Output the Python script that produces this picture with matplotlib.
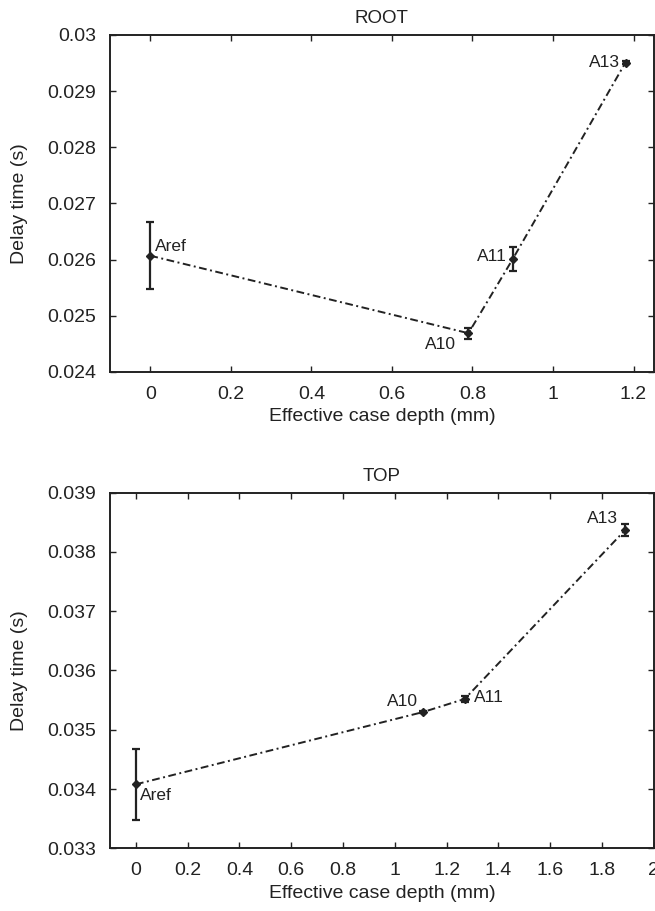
import matplotlib
matplotlib.use("Agg")
import matplotlib.pyplot as plt
from matplotlib.ticker import FuncFormatter

plt.rcParams['font.family'] = ['Liberation Sans', 'DejaVu Sans']

# --------------------------
# Data
# --------------------------
labels = ['Aref', 'A10', 'A11', 'A13']

root_depth = [0.0, 0.79, 0.90, 1.18]
root_delay = [0.02607, 0.02469, 0.02601, 0.02951]
root_err = [0.00060, 0.00010, 0.00022, 0.00002]

top_depth = [0.0, 1.11, 1.27, 1.89]
top_delay = [0.03408, 0.03530, 0.03552, 0.03837]
top_err = [0.00060, 0.00002, 0.00005, 0.00010]

root_yticks = [0.024, 0.025, 0.026, 0.027, 0.028, 0.029, 0.03]
root_xticks = [0, 0.2, 0.4, 0.6, 0.8, 1, 1.2]
top_yticks = [0.033, 0.034, 0.035, 0.036, 0.037, 0.038, 0.039]
top_xticks = [0, 0.2, 0.4, 0.6, 0.8, 1, 1.2, 1.4, 1.6, 1.8, 2]

# label offsets in points (dx, dy) and alignment
root_offsets = [((3, 3.5), 'left', 'baseline'), ((-9, -3), 'right', 'top'),
                ((-4, 2), 'right', 'center'), ((-4, 0), 'right', 'center')]
top_offsets = [((3, -3), 'left', 'top'), ((-4, 2), 'right', 'bottom'),
               ((7, 1), 'left', 'center'), ((-5, 3), 'right', 'bottom')]

ink = '#222222'
fmt = FuncFormatter(lambda v, p: f"{v:g}")

fig = plt.figure(figsize=(6.55, 9.11), dpi=100)
ax1 = fig.add_axes([0.168, 0.5917, 0.830, 0.3699])
ax2 = fig.add_axes([0.168, 0.0688, 0.830, 0.3904])


def draw(ax, x, y, err, offsets, title, xlim, ylim, xticks, yticks):
    ax.plot(x, y, color=ink, lw=1.4, dashes=(4, 1.8, 1, 1.8))
    ax.errorbar(x, y, yerr=err, fmt='D', ms=4.5, color=ink, ecolor=ink,
                elinewidth=1.6, capsize=3.2, capthick=1.6)
    for xi, yi, lab, (off, ha, va) in zip(x, y, labels, offsets):
        ax.annotate(lab, (xi, yi), xytext=off, textcoords='offset points',
                    ha=ha, va=va, fontsize=12.5, color=ink)
    ax.set_xlim(*xlim)
    ax.set_ylim(*ylim)
    ax.set_xticks(xticks)
    ax.set_yticks(yticks)
    ax.xaxis.set_major_formatter(fmt)
    ax.yaxis.set_major_formatter(fmt)
    ax.tick_params(direction='in', length=4, width=1, colors=ink,
                   top=True, right=True, labelsize=14)
    ax.tick_params(axis='y', pad=10)
    ax.tick_params(axis='x', pad=10)
    for s in ax.spines.values():
        s.set_linewidth(1.4)
        s.set_color(ink)
    ax.set_title(title, fontsize=13.5, color=ink, pad=8.5)
    ax.set_xlabel('Effective case depth (mm)', fontsize=14, color=ink, labelpad=4)
    ax.set_ylabel('Delay time (s)', fontsize=14, color=ink)
    ax.yaxis.set_label_coords(-0.15, 0.5)


draw(ax1, root_depth, root_delay, root_err, root_offsets, 'ROOT',
     (-0.1, 1.25), (0.024, 0.03), root_xticks, root_yticks)
draw(ax2, top_depth, top_delay, top_err, top_offsets, 'TOP',
     (-0.1, 2.0), (0.033, 0.039), top_xticks, top_yticks)

plt.savefig("out.png", dpi=100)
